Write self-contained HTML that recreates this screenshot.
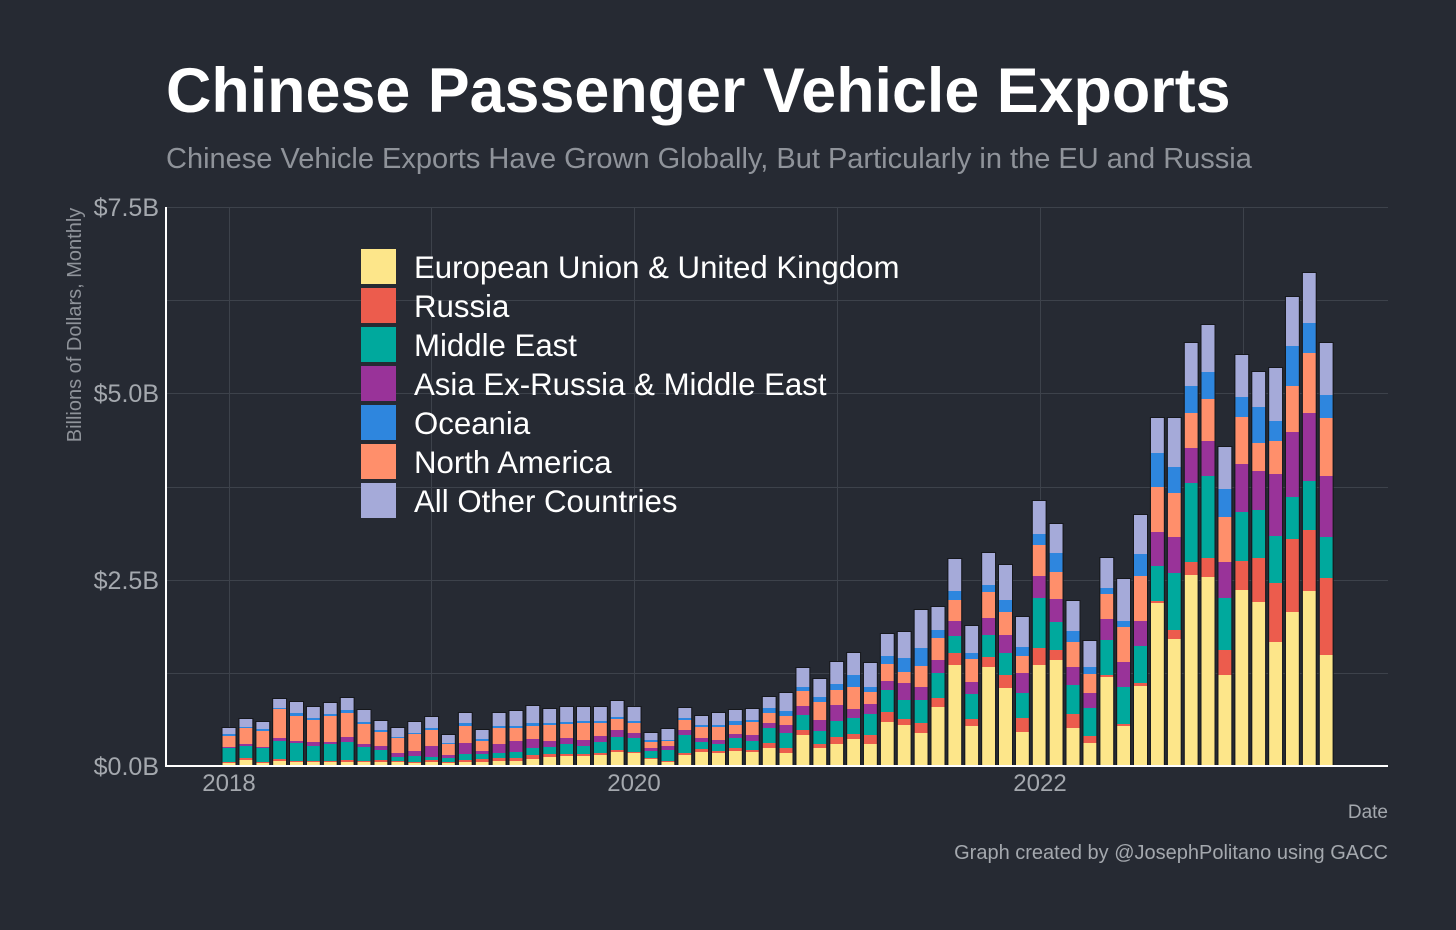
<!DOCTYPE html>
<html><head><meta charset="utf-8"><style>
html,body{margin:0;padding:0;background:#262a33;}
svg{display:block}
text{font-family:"Liberation Sans",sans-serif;}
</style></head><body>
<svg id="c" width="1456" height="930" xmlns="http://www.w3.org/2000/svg">
<rect width="1456" height="930" fill="#262a33"/>
<text x="166" y="112" font-size="62.8" font-weight="bold" fill="#ffffff">Chinese Passenger Vehicle Exports</text>
<text x="166" y="168" font-size="29" fill="#8f939a">Chinese Vehicle Exports Have Grown Globally, But Particularly in the EU and Russia</text>
<g stroke="#3d424b" stroke-width="1">
<line x1="166" x2="1388" y1="207.5" y2="207.5"/>
<line x1="166" x2="1388" y1="300.5" y2="300.5"/>
<line x1="166" x2="1388" y1="393.5" y2="393.5"/>
<line x1="166" x2="1388" y1="487.5" y2="487.5"/>
<line x1="166" x2="1388" y1="580.5" y2="580.5"/>
<line x1="166" x2="1388" y1="673.5" y2="673.5"/>
<line x1="229.5" x2="229.5" y1="207" y2="766"/>
<line x1="431.5" x2="431.5" y1="207" y2="766"/>
<line x1="634.5" x2="634.5" y1="207" y2="766"/>
<line x1="837.5" x2="837.5" y1="207" y2="766"/>
<line x1="1040.5" x2="1040.5" y1="207" y2="766"/>
<line x1="1243.5" x2="1243.5" y1="207" y2="766"/>
</g>
<g id="bars"></g>
<line x1="166" x2="166" y1="207" y2="767" stroke="#ffffff" stroke-width="2"/>
<line x1="165" x2="1388" y1="766" y2="766" stroke="#ffffff" stroke-width="2"/>
<g font-size="25" fill="#a4a8ae" text-anchor="end">
<text x="159" y="216">$7.5B</text>
<text x="159" y="402">$5.0B</text>
<text x="159" y="589">$2.5B</text>
<text x="159" y="775">$0.0B</text>
</g>
<text transform="translate(81,325) rotate(-90)" font-size="20" fill="#8f939a" text-anchor="middle">Billions of Dollars, Monthly</text>
<g font-size="24" fill="#a4a8ae" text-anchor="middle">
<text x="229" y="791">2018</text>
<text x="634" y="791">2020</text>
<text x="1040" y="791">2022</text>
</g>
<text x="1388" y="818" font-size="19" fill="#a4a8ae" text-anchor="end">Date</text>
<text x="1388" y="859" font-size="20" fill="#a4a8ae" text-anchor="end">Graph created by @JosephPolitano using GACC</text>
<g font-size="31.2" fill="#ffffff">
<rect x="361" y="249" width="35" height="35" fill="#fde68a"/><text x="414" y="278">European Union &amp; United Kingdom</text>
<rect x="361" y="288" width="35" height="35" fill="#ec5c4d"/><text x="414" y="317">Russia</text>
<rect x="361" y="327" width="35" height="35" fill="#00a99d"/><text x="414" y="356">Middle East</text>
<rect x="361" y="366" width="35" height="35" fill="#993399"/><text x="414" y="395">Asia Ex-Russia &amp; Middle East</text>
<rect x="361" y="405" width="35" height="35" fill="#2e86de"/><text x="414" y="434">Oceania</text>
<rect x="361" y="444" width="35" height="35" fill="#ff8f6b"/><text x="414" y="473">North America</text>
<rect x="361" y="483" width="35" height="35" fill="#a5aad9"/><text x="414" y="512">All Other Countries</text>
</g>
</svg>
<script>
var D=[
[763,762,748,747,736,734,728],[760,758,746,744,728,727,719],[763,762,748,747,731,729,722],[761,759,741,738,709,708,699],
[762,761,743,741,716,713,702],[762,761,746,742,720,718,707],[762,761,744,742,716,714,703],[762,760,742,737,713,710,698],
[762,761,747,744,724,722,710],[762,760,750,746,732,730,721],[762,761,757,753,738,737,728],[763,762,756,751,734,733,722],
[762,760,757,746,730,728,717],[763,762,758,755,744,743,735],[762,760,754,743,726,723,713],[762,759,754,751,741,739,730],
[761,758,753,744,728,726,713],[761,758,752,741,728,726,711],[759,755,748,739,726,723,706],[757,754,747,741,725,723,709],
[756,754,744,738,724,722,707],[756,754,746,740,723,721,707],[755,753,742,736,723,721,707],[752,750,737,730,719,717,701],
[753,752,738,733,723,721,707],[759,758,751,748,742,740,733],[762,761,750,746,741,740,729],[755,753,735,730,720,718,708],
[752,749,742,738,727,725,716],[753,751,744,740,727,725,713],[751,748,738,734,725,721,710],[752,750,741,735,722,720,709],
[748,743,728,723,713,708,697],[753,748,733,725,716,711,693],[735,730,715,706,691,687,668],[748,744,731,720,702,697,679],
[744,737,721,705,690,684,662],[739,734,718,709,687,675,653],[744,735,714,704,692,687,663],[722,712,690,681,664,656,634],
[725,719,700,683,672,658,632],[733,723,700,687,666,648,610],[707,698,673,660,638,630,607],[665,653,636,621,600,591,559],
[726,719,694,682,659,653,626],[667,657,635,618,592,585,553],[688,675,653,635,612,600,565],[732,718,693,673,656,647,617],
[665,648,598,576,545,534,501],[660,650,622,599,572,553,524],[728,714,685,667,642,631,601],[743,736,708,693,674,667,641],
[677,675,640,619,594,588,558],[726,724,687,662,627,621,579],[686,683,646,621,576,554,515],[603,601,566,532,487,453,418],
[639,630,573,537,493,467,418],[575,562,483,448,413,386,343],[577,558,476,441,399,372,325],[675,650,598,562,517,489,447],
[590,561,512,464,417,397,355],[602,558,510,471,443,407,372],[642,583,536,474,441,421,368],[612,539,497,432,386,346,297],
[591,530,481,413,353,323,273],[655,578,537,476,418,395,343]];
var C=["#fde68a","#ec5c4d","#00a99d","#993399","#ff8f6b","#2e86de","#a5aad9"];
var s="";
for(var i=0;i<D.length;i++){var x=229+i*16.88-6.5,prev=766,d=D[i];
for(var k=0;k<7;k++){var t=d[k];if(prev-t>0)s+='<rect x="'+x.toFixed(1)+'" y="'+t+'" width="13" height="'+(prev-t)+'" fill="'+C[k]+'"/>';prev=t;}
s+='<rect x="'+(x-0.5).toFixed(1)+'" y="'+(d[6]-0.5)+'" width="14" height="'+(766-d[6]+0.5)+'" fill="none" stroke="#16181c" stroke-width="1"/>';}
document.getElementById("bars").innerHTML=s;
</script>
</body></html>
